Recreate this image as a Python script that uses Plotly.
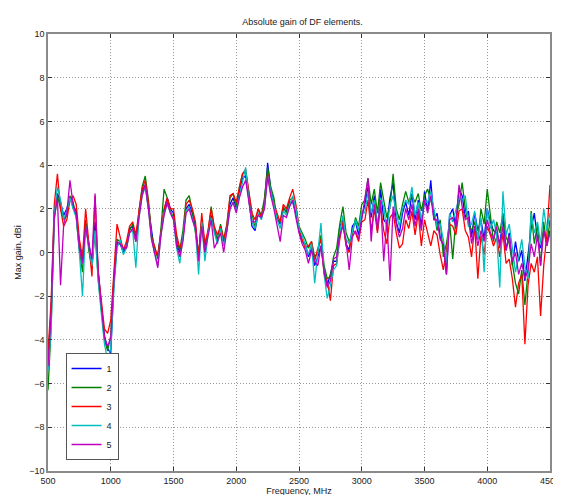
import plotly.graph_objects as go

freq = [500 + 25 * k for k in range(161)]

s1 = [-4.9, -2.6, 1.9, 2.7, 2.3, 1.7, 2.0, 2.5, 2.1, 1.9, 0.3, -0.3, 1.3, 0.5, -0.4, 1.4, -0.8, -2.4, -3.8, -4.4,
      -4.6, -1.4, 0.4, 0.4, 0.0, 0.3, 1.1, 1.2, 0.7, 1.7, 2.8, 3.1, 2.1, 0.9, 0.0, -0.1, 1.0, 1.9, 2.5, 2.0,
      1.8, 0.4, 0.0, 0.7, 2.0, 2.2, 1.8, 1.2, -0.2, 1.5, 0.3, 0.9, 1.7, 1.0, 0.6, 1.2, 0.5, 1.0, 2.2, 2.5,
      2.0, 2.8, 3.4, 3.5, 2.5, 1.2, 1.0, 1.8, 1.6, 2.3, 4.1, 2.9, 2.3, 1.6, 1.3, 2.0, 1.9, 2.3, 2.3, 1.8,
      1.0, 0.5, 0.4, -0.2, 0.2, -0.6, -0.2, 0.3, -0.8, -1.5, -1.0, -0.4, -0.4, 1.2, 1.5, 0.4, 0.1, 1.2, 1.4, 0.8,
      1.6, 2.2, 3.0, 1.6, 2.6, 1.0, 2.9, 1.5, 1.3, 2.5, 3.2, 1.4, 0.9, 1.8, 2.3, 1.7, 2.7, 1.5, 2.4, 1.2,
      2.8, 1.9, 3.3, 1.5, 1.8, 0.7, 0.3, -1.0, 1.7, 2.0, 1.1, 2.9, 2.6, 1.6, 1.9, 0.7, 1.8, 1.0, 1.5, 0.6,
      2.0, 1.4, 1.0, 0.9, 0.4, 1.6, 0.1, 0.9, -0.6, 0.5, -0.4, 0.1, -1.3, -0.2, 1.1, 1.8, 0.6, 0.2, 1.0, 0.5,
      1.0]

s2 = [-6.3, -3.4, 1.5, 2.6, 2.0, 1.5, 1.7, 2.6, 2.3, 1.6, 0.1, -0.9, 1.5, 0.1, -0.7, 1.0, -1.2, -2.6, -4.0, -4.5,
      -3.8, -1.1, 0.6, 0.5, 0.2, 0.2, 1.0, 1.3, 0.5, 1.9, 3.0, 3.5, 2.4, 0.8, 0.3, -0.3, 1.1, 2.9, 2.5, 1.9,
      1.6, 0.6, 0.1, 1.0, 2.4, 2.6, 1.9, 1.0, -0.1, 1.5, 0.0, 0.9, 2.1, 1.1, 0.5, 1.3, 0.6, 1.3, 2.5, 2.7,
      2.1, 3.0, 3.6, 3.7, 2.7, 1.8, 1.1, 2.0, 1.7, 2.5, 3.9, 3.0, 2.5, 1.5, 1.4, 2.1, 1.8, 2.4, 2.5, 2.1,
      1.2, 0.9, 0.6, 0.2, 0.5, -0.2, 0.0, 0.8, -0.6, -1.2, -1.1, -0.2, 0.2, 1.3, 2.1, 0.9, 0.5, 0.8, 1.6, 1.2,
      2.2, 2.4, 3.4, 2.2, 2.9, 1.8, 3.2, 2.4, 1.6, 2.1, 3.6, 2.0, 1.5, 2.2, 2.8, 2.3, 2.6, 2.3, 2.7, 1.9,
      2.6, 2.9, 2.4, 1.9, 1.0, 1.5, -0.2, 0.4, 1.4, -0.3, 1.6, 2.2, 3.2, 2.0, 1.3, 1.0, 1.4, 0.6, 2.0, 1.3,
      2.9, 1.6, 0.5, 1.4, 0.9, 1.8, 0.7, 0.4, -0.5, -1.4, -1.9, -0.8, -2.4, -0.9, 1.9, 0.4, 1.3, -0.6, 1.4, 0.3,
      1.5]

s3 = [-4.6, -2.2, 2.2, 3.6, 2.0, 1.2, 1.5, 2.4, 2.6, 2.2, 0.6, -0.2, 2.0, 0.4, -1.1, 2.6, -0.9, -2.2, -3.5, -3.7,
      -3.1, -0.9, 1.3, 0.7, 0.1, 0.5, 1.2, 1.4, 0.8, 1.9, 2.9, 3.3, 2.3, 0.7, 0.3, -0.2, 0.9, 2.0, 2.5, 2.0,
      2.0, 0.8, 0.2, 0.6, 2.2, 2.4, 2.0, 1.4, -0.2, 1.8, 0.4, 1.0, 2.0, 1.2, 0.8, 1.2, 0.6, 1.2, 2.6, 2.7,
      2.3, 3.0, 3.6, 3.8, 2.8, 1.8, 1.5, 2.0, 1.6, 2.2, 3.6, 2.7, 2.2, 1.8, 1.4, 2.2, 2.0, 2.5, 2.9, 2.2,
      1.1, 0.6, 0.2, 0.3, 0.5, -0.4, 0.2, 0.6, -1.0, -1.3, -2.2, -0.6, -0.5, 0.6, 1.4, 0.3, 0.0, 1.0, 0.9, 0.5,
      1.4, 1.5, 2.4, 1.0, 2.0, 0.9, 2.1, 1.0, 0.4, 1.6, 1.8, 0.9, 0.2, 0.4, 1.5, 1.1, 1.9, 0.8, 1.8, 0.3,
      1.5, 0.9, 0.3, 1.0, 0.8, -0.1, -0.8, 0.1, 1.3, 1.2, 0.8, 1.9, 2.0, 1.0, 0.7, -0.2, 1.2, -1.2, 0.8, -0.1,
      1.2, 0.8, 0.3, 0.7, -0.2, 0.9, -0.5, -0.3, -1.2, -2.5, -1.4, -1.0, -4.2, -1.5, -0.5, -0.9, -0.2, -2.9, -0.6, 0.8,
      3.1]

s4 = [-5.4, -3.5, 1.7, 3.0, 2.4, 1.5, 1.9, 2.5, 2.0, 1.6, 0.0, -2.0, 1.2, 0.2, -0.6, 1.0, -1.3, -2.8, -4.2, -4.9,
      -4.4, -1.7, 0.2, 0.6, -0.1, 0.2, 0.9, 1.0, -0.7, 1.6, 2.6, 3.0, 2.0, 0.6, 0.0, -0.6, 0.8, 1.8, 2.2, 1.8,
      1.5, 0.2, -0.5, 0.7, 1.9, 2.1, 1.6, 1.0, -1.0, 1.4, -0.4, 0.8, 1.6, 0.9, 0.4, 1.1, 0.3, 1.0, 2.0, 2.3,
      1.9, 2.6, 3.3, 3.9, 2.4, 1.4, 1.1, 1.8, 1.5, 2.1, 3.5, 2.8, 2.1, 1.5, 1.1, 1.9, 1.7, 2.2, 2.6, 2.0,
      1.1, 0.8, 0.3, -0.1, 0.4, -1.4, 0.0, 1.35, -1.0, -2.1, -1.5, -0.8, -0.6, 0.9, 1.7, 0.6, 0.4, 1.0, 1.5, 1.0,
      1.9, 1.8, 2.8, 1.8, 2.4, 1.2, 2.5, 2.1, 1.0, 2.2, 2.6, 1.8, 1.2, 2.0, 2.4, 2.2, 3.0, 1.7, 2.3, 1.5,
      2.3, 2.3, 2.8, 2.0, 1.2, 1.3, 0.6, -0.5, 1.8, 1.4, 1.9, 2.5, 2.4, 2.6, 1.2, 1.3, 1.9, 0.6, 1.6, -0.9,
      2.0, 1.1, 1.5, 0.8, -1.6, 2.8, 0.8, 1.3, 0.2, -0.9, -0.2, 0.6, -0.6, -1.2, 1.8, 0.9, 1.4, 0.4, 2.0, 1.0,
      1.8]

s5 = [-5.2, -2.8, 1.6, 2.5, -1.5, 1.3, 1.8, 3.3, 2.2, 1.7, 0.2, -0.5, 1.2, 0.3, -0.3, 2.7, -1.0, -2.5, -3.9, -4.3,
      -3.9, -1.3, 0.5, 0.4, 0.2, 0.2, 0.9, 1.1, 0.5, 1.6, 2.6, 3.1, 2.0, 0.6, -0.1, -0.7, 0.8, 1.7, 2.3, 1.8,
      1.5, 0.3, -0.2, 0.5, 1.8, 2.0, 1.5, 1.1, -0.4, 1.2, 0.0, 0.7, 1.5, 0.2, 0.5, 0.9, 0.0, 1.0, 2.0, 2.3,
      1.8, 2.5, 3.0, 3.3, 2.3, 1.4, 1.4, 1.7, 1.6, 2.0, 3.5, 2.6, 2.0, 1.2, 0.5, 1.7, 1.6, 2.1, 2.4, 1.6,
      0.9, 0.4, 0.1, -0.5, 0.1, -0.4, -0.6, 0.3, -0.9, -1.6, -1.3, -0.3, -0.2, 0.8, 1.2, 0.5, -0.8, 0.7, 1.0, 0.6,
      1.5, 2.5, 3.4, 0.5, 2.2, 1.1, 2.4, -0.4, 1.5, -1.3, 2.1, 1.3, 0.7, 1.1, 2.0, 1.5, 2.2, 1.2, 2.0, 1.0,
      2.4, 1.8, 2.6, 1.5, 1.5, 0.6, 0.4, -1.0, 1.5, 1.6, 1.2, 3.1, 2.1, 1.5, 1.6, 0.4, 1.2, 0.3, 1.0, 0.5,
      1.5, 0.9, 0.6, 1.2, 0.2, 1.2, 0.1, 0.8, -0.4, 0.0, -1.0, -0.5, -1.2, -0.8, 0.4, -0.2, 0.8, -0.6, 1.0, 0.3,
      0.9]

series = [("1", s1, "#0000ff"), ("2", s2, "#008000"), ("3", s3, "#ff0000"),
          ("4", s4, "#00bfbf"), ("5", s5, "#bf00bf")]

x_ticks = [500, 1000, 1500, 2000, 2500, 3000, 3500, 4000, 4500]
y_ticks = [-10, -8, -6, -4, -2, 0, 2, 4, 6, 8, 10]

fig = go.Figure()
for name, vals, col in series:
    fig.add_trace(go.Scatter(x=freq, y=vals, mode="lines", name=name,
                             line=dict(color=col, width=1.3)))

font = "Liberation Sans, Arial, sans-serif"
axis_common = dict(showline=True, linecolor="#8a8a8a", linewidth=1.5, mirror="ticks",
                   ticks="inside", ticklen=4, tickcolor="#333333",
                   showgrid=True, gridcolor="#999999", griddash="1px,2px", gridwidth=1,
                   zeroline=False, tickfont=dict(size=9, color="#222", family=font))

fig.update_layout(
    width=561, height=495,
    margin=dict(l=37, r=9, t=26, b=27),
    paper_bgcolor="white", plot_bgcolor="white",
    title=dict(text="Absolute gain of DF elements.", x=0.525, xanchor="center",
               y=0.972, yanchor="middle", font=dict(size=9, color="#222", family=font)),
    xaxis=dict(range=[500, 4500], tickvals=x_ticks,
               title=dict(text="Frequency, MHz", standoff=2, font=dict(size=9, color="#222", family=font)),
               **axis_common),
    yaxis=dict(range=[-10, 10], tickvals=y_ticks,
               title=dict(text="Max gain, dBi", standoff=6, font=dict(size=9, color="#222", family=font)),
               **axis_common),
    showlegend=True,
    legend=dict(x=0.035, y=0.27, xanchor="left", yanchor="top",
                bgcolor="white", bordercolor="#555555", borderwidth=1,
                font=dict(size=9, color="#222", family=font),
                tracegroupgap=0, itemwidth=30),
)

fig.write_html("out.html")
